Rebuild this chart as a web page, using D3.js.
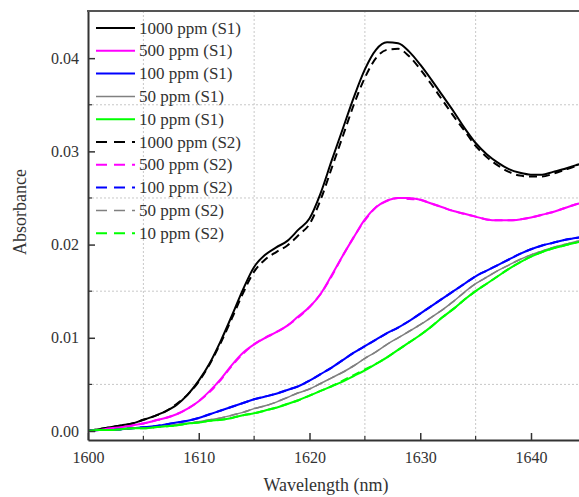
<!DOCTYPE html>
<html>
<head>
<meta charset="utf-8">
<script src="https://cdn.jsdelivr.net/npm/d3@7"></script>
<style>
  body { margin: 0; background: #fff; }
  svg { display: block; }
  text { font-family: "Liberation Serif", "Times New Roman", serif; fill: #333; }
</style>
</head>
<body>
<div id="chart"></div>
<script>
// wavelength samples, nm
const wavelengths = d3.range(1600, 1646, 1);

// absorbance, set S1 (solid)
const s1_1000 = [0.0000,0.0002,0.0004,0.0006,0.0008,0.0012,0.0016,0.0021,0.0028,0.0039,
  0.0054,0.0073,0.0097,0.0124,0.0152,0.0176,0.0189,0.0197,0.0204,0.0216,
  0.0228,0.0255,0.0290,0.0324,0.0358,0.0388,0.0409,0.0417,0.0416,0.0407,
  0.0393,0.0377,0.0360,0.0343,0.0325,0.0309,0.0297,0.0288,0.0281,0.0277,
  0.0275,0.0275,0.0278,0.0281,0.0285,0.0288];
const s1_500 = [0.0000,0.0001,0.0003,0.0004,0.0006,0.0008,0.0011,0.0014,0.0018,0.0024,
  0.0032,0.0043,0.0056,0.0071,0.0084,0.0093,0.0100,0.0106,0.0113,0.0123,
  0.0133,0.0147,0.0167,0.0188,0.0208,0.0227,0.0240,0.0247,0.0250,0.0250,
  0.0248,0.0244,0.0240,0.0236,0.0233,0.0230,0.0227,0.0226,0.0226,0.0227,
  0.0229,0.0232,0.0235,0.0239,0.0243,0.0246];
const s1_100 = [0.0000,0.0001,0.0001,0.0002,0.0003,0.0004,0.0005,0.0007,0.0009,0.0011,
  0.0014,0.0018,0.0022,0.0026,0.0030,0.0034,0.0037,0.0040,0.0044,0.0048,
  0.0054,0.0061,0.0068,0.0076,0.0084,0.0091,0.0098,0.0105,0.0111,0.0118,
  0.0126,0.0134,0.0142,0.0150,0.0158,0.0166,0.0172,0.0178,0.0184,0.0190,
  0.0195,0.0199,0.0202,0.0205,0.0207,0.0209];
const s1_50 = [0.0000,0.0001,0.0001,0.0002,0.0003,0.0003,0.0004,0.0005,0.0007,0.0008,
  0.0010,0.0012,0.0014,0.0017,0.0020,0.0024,0.0027,0.0031,0.0036,0.0041,
  0.0045,0.0051,0.0057,0.0063,0.0070,0.0078,0.0085,0.0093,0.0100,0.0107,
  0.0114,0.0122,0.0130,0.0139,0.0149,0.0158,0.0165,0.0172,0.0178,0.0184,
  0.0189,0.0193,0.0197,0.0200,0.0203,0.0205];
const s1_10 = [0.0000,0.0001,0.0001,0.0002,0.0003,0.0003,0.0004,0.0005,0.0006,0.0008,
  0.0009,0.0011,0.0012,0.0014,0.0017,0.0019,0.0022,0.0025,0.0029,0.0033,
  0.0038,0.0043,0.0048,0.0053,0.0059,0.0065,0.0072,0.0079,0.0087,0.0095,
  0.0103,0.0112,0.0122,0.0131,0.0141,0.0150,0.0158,0.0166,0.0174,0.0181,
  0.0187,0.0192,0.0196,0.0199,0.0202,0.0204];

// absorbance, set S2 (dashed)
const s2_1000 = [0.0000,0.0002,0.0004,0.0006,0.0008,0.0012,0.0016,0.0021,0.0029,0.0039,
  0.0053,0.0072,0.0095,0.0121,0.0148,0.0171,0.0184,0.0192,0.0199,0.0210,
  0.0222,0.0248,0.0282,0.0316,0.0350,0.0379,0.0400,0.0409,0.0410,0.0402,
  0.0388,0.0372,0.0355,0.0338,0.0322,0.0306,0.0294,0.0285,0.0278,0.0274,
  0.0273,0.0273,0.0276,0.0280,0.0284,0.0287];
const s2_500 = [0.0000,0.0001,0.0003,0.0004,0.0006,0.0008,0.0011,0.0014,0.0018,0.0024,
  0.0032,0.0042,0.0055,0.0070,0.0083,0.0093,0.0100,0.0106,0.0113,0.0122,
  0.0133,0.0147,0.0166,0.0188,0.0208,0.0226,0.0240,0.0247,0.0250,0.0249,
  0.0248,0.0244,0.0240,0.0236,0.0233,0.0230,0.0227,0.0226,0.0226,0.0227,
  0.0229,0.0232,0.0235,0.0239,0.0243,0.0246];
const s2_100 = [0.0000,0.0001,0.0001,0.0002,0.0003,0.0004,0.0005,0.0007,0.0009,0.0011,
  0.0014,0.0018,0.0022,0.0026,0.0030,0.0034,0.0037,0.0040,0.0044,0.0048,
  0.0054,0.0061,0.0068,0.0076,0.0084,0.0091,0.0098,0.0105,0.0111,0.0118,
  0.0126,0.0134,0.0142,0.0150,0.0158,0.0166,0.0172,0.0178,0.0184,0.0190,
  0.0195,0.0199,0.0202,0.0205,0.0207,0.0209];
const s2_50 = [0.0000,0.0001,0.0001,0.0002,0.0003,0.0003,0.0004,0.0005,0.0007,0.0008,
  0.0010,0.0012,0.0014,0.0017,0.0020,0.0024,0.0027,0.0031,0.0036,0.0041,
  0.0045,0.0051,0.0057,0.0063,0.0070,0.0078,0.0085,0.0093,0.0100,0.0107,
  0.0114,0.0122,0.0130,0.0139,0.0149,0.0158,0.0165,0.0172,0.0178,0.0184,
  0.0189,0.0193,0.0197,0.0200,0.0203,0.0205];
const s2_10 = [0.0000,0.0001,0.0001,0.0002,0.0003,0.0003,0.0004,0.0005,0.0006,0.0008,
  0.0009,0.0011,0.0012,0.0014,0.0017,0.0019,0.0022,0.0025,0.0029,0.0033,
  0.0038,0.0043,0.0048,0.0054,0.0060,0.0066,0.0072,0.0079,0.0087,0.0095,
  0.0103,0.0112,0.0122,0.0131,0.0141,0.0150,0.0158,0.0166,0.0174,0.0181,
  0.0187,0.0192,0.0196,0.0199,0.0202,0.0204];

const seriesNames = ["1000 ppm (S1)", "500 ppm (S1)", "100 ppm (S1)", "50 ppm (S1)", "10 ppm (S1)",
  "1000 ppm (S2)", "500 ppm (S2)", "100 ppm (S2)", "50 ppm (S2)", "10 ppm (S2)"];
const seriesValues = [s1_1000, s1_500, s1_100, s1_50, s1_10, s2_1000, s2_500, s2_100, s2_50, s2_10];
const seriesColors = ["#000000", "#ff00ff", "#0000ff", "#808080", "#00ff00"];

const xTicks = [1600, 1610, 1620, 1630, 1640];
const xMinor = [1605, 1615, 1625, 1635, 1645];
const yTicks = [0, 0.01, 0.02, 0.03, 0.04];
const yMinor = [0.005, 0.015, 0.025, 0.035];

const width = 579, height = 497;
const plotLeft = 88, plotTop = 11, plotBottom = 440;

const x = d3.scaleLinear().domain([1600, 1650]).range([plotLeft, plotLeft + 553.75]);
const y = d3.scaleLinear().domain([-0.000966, 0.04506]).range([plotBottom, plotTop]);

const svg = d3.select("#chart").append("svg")
    .attr("width", width)
    .attr("height", height);

svg.append("defs").append("clipPath").attr("id", "plot")
  .append("rect")
    .attr("x", plotLeft).attr("y", plotTop)
    .attr("width", x.range()[1] - plotLeft).attr("height", plotBottom - plotTop);

// dotted grid sits on the minor positions only
const grid = svg.append("g").attr("class", "grid");
grid.selectAll(".gx")
    .data(xMinor)
  .enter().append("line")
    .attr("x1", d => x(d)).attr("x2", d => x(d))
    .attr("y1", plotTop).attr("y2", plotBottom)
    .attr("stroke", "#c8c8c8").attr("stroke-dasharray", "2,2");
grid.selectAll(".gy")
    .data(yMinor)
  .enter().append("line")
    .attr("x1", plotLeft).attr("x2", x.range()[1])
    .attr("y1", d => y(d)).attr("y2", d => y(d))
    .attr("stroke", "#c8c8c8").attr("stroke-dasharray", "2,2");

// curves
const line = d3.line()
    .x(d => x(d[0]))
    .y(d => y(d[1]))
    .curve(d3.curveMonotoneX);

const plot = svg.append("g").attr("clip-path", "url(#plot)");
// draw S2 first so solid S1 lies on top, dashed peeks out where they part
const order = [5, 6, 7, 8, 9, 0, 1, 2, 3, 4];
plot.selectAll(".curve")
    .data(order)
  .enter().append("path")
    .attr("class", "curve")
    .attr("fill", "none")
    .attr("stroke", i => seriesColors[i % 5])
    .attr("stroke-width", i => (i % 5 === 3 ? 1.5 : 2))
    .attr("stroke-dasharray", i => (i >= 5 ? "8,5" : null))
    .attr("d", i => line(wavelengths.map((w, k) => [w, seriesValues[i][k]])));

// axes, ticks inward
const xAxis = d3.axisBottom(x).tickValues(xTicks).tickSizeInner(-7).tickSizeOuter(0).tickPadding(12)
    .tickFormat(d3.format("d"));
const yAxis = d3.axisLeft(y).tickValues(yTicks).tickSizeInner(-7).tickSizeOuter(0).tickPadding(9)
    .tickFormat(d3.format(".2f"));

const gx = svg.append("g").attr("transform", `translate(0,${plotBottom})`).call(xAxis);
const gy = svg.append("g").attr("transform", `translate(${plotLeft},0)`).call(yAxis);

[gx, gy].forEach(g => {
  g.select(".domain").attr("stroke", "#333").attr("stroke-width", 2);
  g.selectAll(".tick line").attr("stroke", "#333").attr("stroke-width", 1.5);
  g.selectAll(".tick text").attr("font-size", 16).attr("fill", "#333");
});

// minor ticks
gx.selectAll(".minor")
    .data(xMinor)
  .enter().append("line")
    .attr("x1", d => x(d)).attr("x2", d => x(d))
    .attr("y1", 0).attr("y2", -4)
    .attr("stroke", "#333").attr("stroke-width", 1.2);
gy.selectAll(".minor")
    .data(yMinor)
  .enter().append("line")
    .attr("x1", 0).attr("x2", 4)
    .attr("y1", d => y(d)).attr("y2", d => y(d))
    .attr("stroke", "#333").attr("stroke-width", 1.2);

// top frame
svg.append("line")
    .attr("x1", plotLeft - 1).attr("x2", x.range()[1])
    .attr("y1", plotTop).attr("y2", plotTop)
    .attr("stroke", "#555").attr("stroke-width", 2);

// axis titles
svg.append("text")
    .attr("x", 326).attr("y", 491)
    .attr("text-anchor", "middle")
    .attr("font-size", 18)
    .text("Wavelength (nm)");

svg.append("text")
    .attr("transform", "translate(26,212) rotate(-90)")
    .attr("text-anchor", "middle")
    .attr("font-size", 18)
    .text("Absorbance");

// legend
const legend = svg.append("g").attr("class", "legend");
const row = legend.selectAll(".row")
    .data(seriesNames)
  .enter().append("g")
    .attr("transform", (d, i) => `translate(0,${28 + i * 22.8})`);

row.append("line")
    .attr("x1", 96).attr("x2", 135)
    .attr("stroke", (d, i) => seriesColors[i % 5])
    .attr("stroke-width", (d, i) => (i % 5 === 3 ? 1.5 : 2))
    .attr("stroke-dasharray", (d, i) => (i >= 5 ? "11,7" : null));

row.append("text")
    .attr("x", 139).attr("y", 5.5)
    .attr("font-size", 17)
    .text(d => d);
</script>
</body>
</html>
